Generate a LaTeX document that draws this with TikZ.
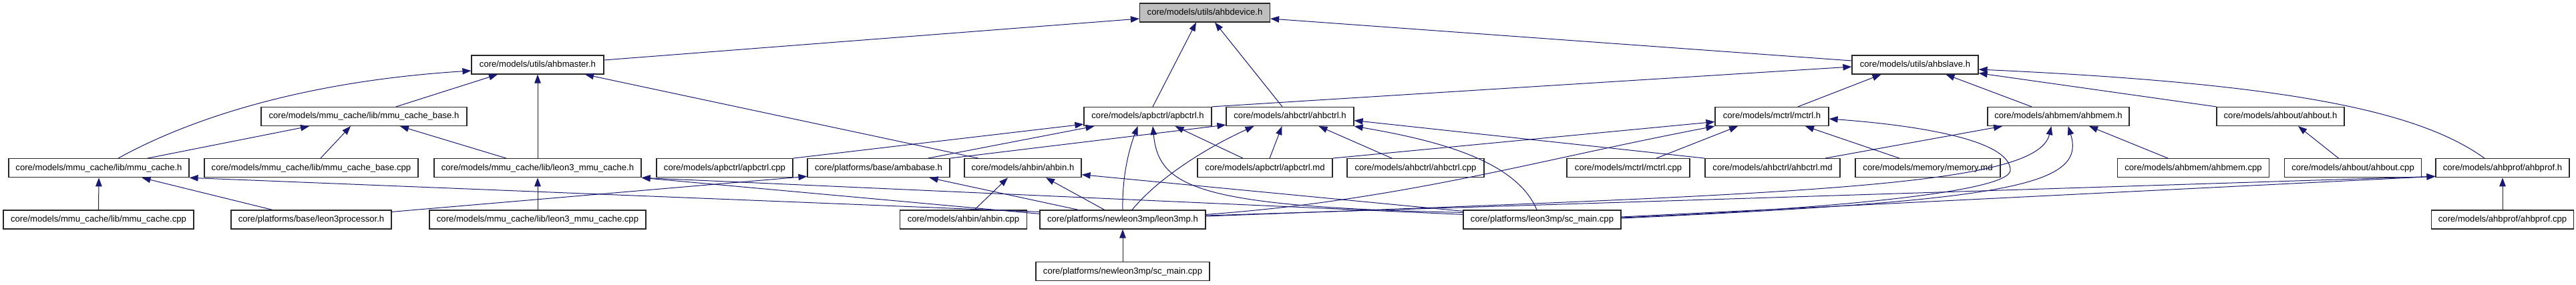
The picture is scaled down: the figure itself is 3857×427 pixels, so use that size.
\documentclass[tikz,border=0pt]{standalone}
\usepackage{fontspec}
\setmainfont{Liberation Sans}
\usetikzlibrary{arrows.meta}
\definecolor{edgeblue}{HTML}{191970}
\definecolor{rootgray}{HTML}{BFBFBF}
\tikzset{
  box/.style={draw=black!85, line width=1.2pt, fill=white, minimum height=28pt,
    inner sep=0pt, text height=9.6pt, text depth=2.7pt,
    font=\fontsize{13.1}{15}\selectfont},
  edge/.style={draw=edgeblue, line width=1pt,
    -{Triangle[length=13pt,width=9.5pt]}, fill=none}
}
\begin{document}
\begin{tikzpicture}[x=1pt,y=-1pt]
\useasboundingbox (0,0) rectangle (3857,427);
% row 1
\node[box, fill=rootgray, minimum width=195pt] (AD) at (1804,19) {core/models/utils/ahbdevice.h};
% row 2
\node[box, minimum width=198pt] (AM) at (805,97) {core/models/utils/ahbmaster.h};
\node[box, minimum width=189pt] (AS) at (2867.5,97) {core/models/utils/ahbslave.h};
% row 3
\node[box, minimum width=308pt] (MCB) at (545,174.5) {core/models/mmu\_cache/lib/mmu\_cache\_base.h};
\node[box, minimum width=191pt] (APH) at (1718.5,174.5) {core/models/apbctrl/apbctrl.h};
\node[box, minimum width=191pt] (AHH) at (1931.5,174.5) {core/models/ahbctrl/ahbctrl.h};
\node[box, minimum width=170pt] (MCH) at (2653,174.5) {core/models/mctrl/mctrl.h};
\node[box, minimum width=212pt] (AMH) at (3082,174.5) {core/models/ahbmem/ahbmem.h};
\node[box, minimum width=191pt] (AOH) at (3414.5,174.5) {core/models/ahbout/ahbout.h};
% row 4
\node[box, minimum width=270pt] (MC) at (148,251.7) {core/models/mmu\_cache/lib/mmu\_cache.h};
\node[box, minimum width=320pt] (MCBC) at (466,251.7) {core/models/mmu\_cache/lib/mmu\_cache\_base.cpp};
\node[box, minimum width=310pt] (L3MC) at (805,251.7) {core/models/mmu\_cache/lib/leon3\_mmu\_cache.h};
\node[box, minimum width=204pt] (APC) at (1085,251.7) {core/models/apbctrl/apbctrl.cpp};
\node[box, minimum width=213pt] (AMB) at (1315.5,251.7) {core/platforms/base/ambabase.h};
\node[box, minimum width=175pt] (AIH) at (1531.5,251.7) {core/models/ahbin/ahbin.h};
\node[box, minimum width=202pt] (APM) at (1894,251.7) {core/models/apbctrl/apbctrl.md};
\node[box, minimum width=205pt] (AHC) at (2119.5,251.7) {core/models/ahbctrl/ahbctrl.cpp};
\node[box, minimum width=184pt] (MCC) at (2438,251.7) {core/models/mctrl/mctrl.cpp};
\node[box, minimum width=202pt] (AHM) at (2654,251.7) {core/models/ahbctrl/ahbctrl.md};
\node[box, minimum width=217pt] (MEM) at (2886.5,251.7) {core/models/memory/memory.md};
\node[box, minimum width=227pt] (AMC) at (3284,251.7) {core/models/ahbmem/ahbmem.cpp};
\node[box, minimum width=205pt] (AOC) at (3523,251.7) {core/models/ahbout/ahbout.cpp};
\node[box, minimum width=200pt] (APF) at (3747,251.7) {core/models/ahbprof/ahbprof.h};
% row 5
\node[box, minimum width=285pt] (MCcpp) at (147.5,329) {core/models/mmu\_cache/lib/mmu\_cache.cpp};
\node[box, minimum width=240pt] (L3P) at (466,329) {core/platforms/base/leon3processor.h};
\node[box, minimum width=324pt] (L3MCcpp) at (805,329) {core/models/mmu\_cache/lib/leon3\_mmu\_cache.cpp};
\node[box, minimum width=190pt] (AIC) at (1442.5,329) {core/models/ahbin/ahbin.cpp};
\node[box, minimum width=248pt] (NLH) at (1681,329) {core/platforms/newleon3mp/leon3mp.h};
\node[box, minimum width=236pt] (LSC) at (2309,329) {core/platforms/leon3mp/sc\_main.cpp};
\node[box, minimum width=213pt] (APFC) at (3747,329) {core/models/ahbprof/ahbprof.cpp};
% row 6
\node[box, minimum width=260pt] (NLSC) at (1681,406.7) {core/platforms/newleon3mp/sc\_main.cpp};

% edges into ahbdevice.h
\draw[edge] ([yshift=7pt]AM.east) -- ([yshift=-9pt]AD.west);
\draw[edge] ([yshift=6pt]AS.west) -- ([yshift=-9pt]AD.east);
\draw[edge] ([xshift=7.5pt]APH.north) -- ([xshift=-13pt]AD.south);
\draw[edge] ([xshift=-11.5pt]AHH.north) -- ([xshift=15pt]AD.south);
% edges into ahbmaster.h
\draw[edge] ([xshift=29pt]MC.north) .. controls (280,180) and (450,122) .. ([yshift=-9pt]AM.west);
\draw[edge] ([xshift=48pt]MCB.north) -- ([xshift=-60pt]AM.south);
\draw[edge] (L3MC.north) -- (AM.south);
\draw[edge] ([xshift=-66.5pt]AIH.north) -- ([xshift=71pt]AM.south);
% edges into ahbslave.h
\draw[edge] (APH.north east) -- ([yshift=-3pt]AS.west);
\draw[edge] ([xshift=39pt]MCH.north) -- ([xshift=-51pt]AS.south);
\draw[edge] ([xshift=-40pt]AMH.north) -- ([xshift=46pt]AS.south);
\draw[edge] (AOH.north west) -- ([yshift=2pt]AS.south east);
\draw[edge] ([xshift=-27pt]APF.north) .. controls (3620,165) and (3420,125) .. ([yshift=-7pt]AS.east);
% edges into mmu_cache_base.h
\draw[edge] ([xshift=73pt]MC.north) -- ([xshift=-82pt]MCB.south);
\draw[edge] ([xshift=14pt]MCBC.north) -- ([xshift=-20pt]MCB.south);
\draw[edge] ([xshift=-47pt]L3MC.north) -- ([xshift=54pt]MCB.south);
% edges into apbctrl.h
\draw[edge] (APC.north east) -- ([yshift=3pt]APH.south west);
\draw[edge] ([xshift=74pt]AMB.north) -- ([xshift=-80pt]APH.south);
\draw[edge] (NLH.north) .. controls (1680,265) and (1690,225) .. ([xshift=-15pt]APH.south);
\draw[edge] ([yshift=-4pt]LSC.north west) .. controls (1790,310) and (1735,280) .. ([xshift=7.5pt]APH.south);
\draw[edge] ([xshift=-33pt]APM.north) -- ([xshift=41pt]APH.south);
% edges into ahbctrl.h
\draw[edge] (AMB.north east) -- ([yshift=2pt]AHH.south west);
\draw[edge] ([xshift=14pt]NLH.north) .. controls (1740,260) and (1820,215) .. ([xshift=-54pt]AHH.south);
\draw[edge] ([xshift=7pt]APM.north) -- ([xshift=-12pt]AHH.south);
\draw[edge] ([xshift=-35.5pt]AHC.north) -- ([xshift=43pt]AHH.south);
\draw[edge] (AHM.north west) -- ([yshift=-6pt]AHH.east);
\draw[edge] ([xshift=-8pt]LSC.north) .. controls (2270,240) and (2150,210) .. (AHH.south east);
% edges into mctrl.h
\draw[edge] (APM.north east) -- ([yshift=-8pt]MCH.west);
\draw[edge] ([yshift=-7pt]NLH.north east) .. controls (2100,300) and (2300,240) .. (MCH.south west);
\draw[edge] ([xshift=42pt]MCC.north) -- ([xshift=-51pt]MCH.south);
\draw[edge] ([xshift=-42.5pt]MEM.north) -- ([xshift=50pt]MCH.south);
\draw[edge] ([yshift=3pt]LSC.east) .. controls (2700,315) and (3010,290) .. (3010,255)
  .. controls (3010,215) and (2900,190) .. ([yshift=-3.5pt]MCH.east);
% edges into ahbmem.h
\draw[edge] ([xshift=78.6pt]AHM.north) -- ([xshift=-84pt]AMH.south);
\draw[edge] ([xshift=-38pt]AMC.north) -- ([xshift=46pt]AMH.south);
\draw[edge] ([yshift=5pt]NLH.east) .. controls (2700,290) and (3050,280) .. ([xshift=-10.6pt]AMH.south);
\draw[edge] ([yshift=2pt]LSC.east) .. controls (3000,300) and (3125,280) .. ([xshift=14.6pt]AMH.south);
% edges into ahbout.h
\draw[edge] ([xshift=-21.5pt]AOC.north) -- ([xshift=26.5pt]AOH.south);
% edges into ahbprof.h
\draw[edge] ([yshift=6pt]NLH.east) -- ([yshift=2pt]APF.south west);
\draw[edge] ([yshift=4pt]LSC.east) -- ([yshift=2pt]APF.south west);
\draw[edge] (APFC.north) -- (APF.south);
% edges into mmu_cache.h
\draw[edge] (MCcpp.north) -- (MC.south);
\draw[edge] ([xshift=-58pt]L3P.north) -- ([xshift=64.5pt]MC.south);
\draw[edge] ([yshift=-3pt]NLH.north west) -- (MC.south east);
% edges into leon3_mmu_cache.h
\draw[edge] (L3MCcpp.north) -- (L3MC.south);
\draw[edge] ([yshift=-6pt]NLH.north west) -- (L3MC.south east);
\draw[edge] ([yshift=-7pt]LSC.north west) -- (L3MC.south east);
% edges into ambabase.h
\draw[edge] ([yshift=-3pt]L3P.north east) -- ([yshift=2pt]AMB.south west);
\draw[edge] ([xshift=-66.4pt]NLH.north) -- ([xshift=76pt]AMB.south);
% edges into ahbin.h
\draw[edge] ([xshift=16.5pt]AIC.north) -- ([xshift=-22.5pt]AIH.south);
\draw[edge] ([xshift=-27.3pt]NLH.north) -- ([xshift=34.5pt]AIH.south);
\draw[edge] ([yshift=-2pt]LSC.north west) -- ([yshift=-10pt]AIH.east);
% edges into leon3mp.h
\draw[edge] (NLSC.north) -- (NLH.south);
\end{tikzpicture}
\end{document}
